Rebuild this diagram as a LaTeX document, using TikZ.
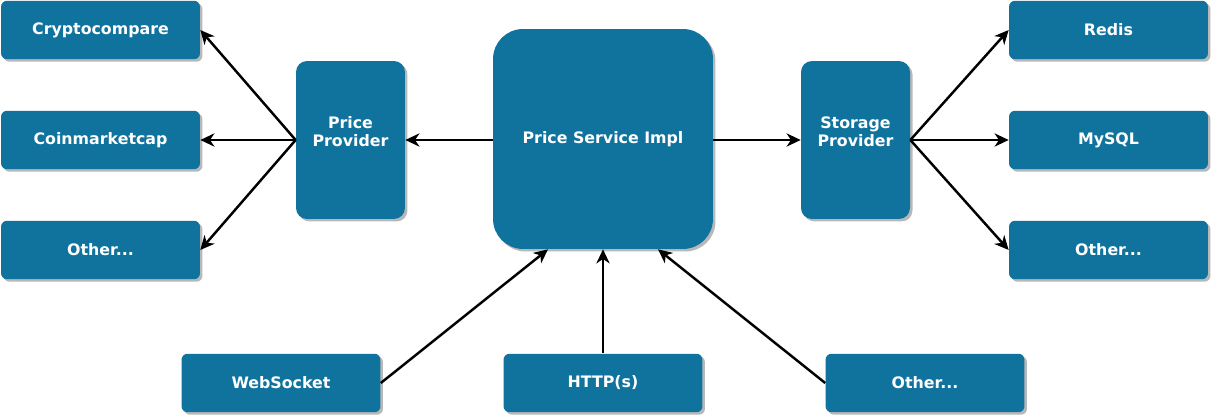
\documentclass[tikz,border=0pt]{standalone}
\usepackage{fontspec}
\setmainfont{DejaVu Sans}
\usetikzlibrary{arrows.meta,shadows}
\definecolor{boxblue}{HTML}{10739E}

\begin{document}
\begin{tikzpicture}[x=0.02cm, y=-0.02cm,
    box/.style={fill=boxblue, text=white, font=\bfseries\fontsize{9}{10.2}\selectfont,
        align=center, inner sep=0pt, rounded corners=0.12cm,
        drop shadow={shadow xshift=0.05cm, shadow yshift=-0.05cm, fill=black!28, opacity=1}},
    smallbox/.style={box, minimum width=3.98cm, minimum height=1.17cm},
    provbox/.style={box, minimum width=2.18cm, minimum height=3.16cm, rounded corners=0.22cm},
    lbl/.style={text=white, font=\bfseries\fontsize{9}{10.2}\selectfont, align=center, yshift=0.17cm},
    arr/.style={-{Stealth[length=8pt, width=7.5pt, inset=2.5pt]}, line width=1.4pt}]
    \useasboundingbox (0,0) rectangle (1213,418);
    % left side
    \node[smallbox] (crypto) at (100.5,30) {Cryptocompare};
    \node[smallbox] (cmc) at (100.5,140) {Coinmarketcap};
    \node[smallbox] (otherleft) at (100.5,250) {Other...};
    \node[provbox, label={[lbl]center:Price\\Provider}] (priceprov) at (350.5,140) {};
    % center
    \node[box, minimum width=4.4cm, minimum height=4.4cm, rounded corners=0.6cm] (service) at (603,139) {Price Service Impl};
    % right side
    \node[provbox, label={[lbl]center:Storage\\Provider}] (storeprov) at (855.5,140) {};
    \node[smallbox] (redis) at (1108.5,30) {Redis};
    \node[smallbox] (mysql) at (1108.5,140) {MySQL};
    \node[smallbox] (otherright) at (1108.5,250) {Other...};
    % bottom
    \node[smallbox] (websocket) at (281,383) {WebSocket};
    \node[smallbox] (http) at (603,383) {HTTP(s)};
    \node[smallbox] (otherbottom) at (925,383) {Other...};
    % arrows
    \draw[arr] (priceprov.west) -- (crypto.east);
    \draw[arr] (priceprov.west) -- (cmc.east);
    \draw[arr] (priceprov.west) -- (otherleft.east);
    \draw[arr] (service.west |- priceprov.east) -- (priceprov.east);
    \draw[arr] (service.east |- storeprov.west) -- (storeprov.west);
    \draw[arr] (storeprov.east) -- (redis.west);
    \draw[arr] (storeprov.east) -- (mysql.west);
    \draw[arr] (storeprov.east) -- (otherright.west);
    \draw[arr] (websocket.east) -- ([xshift=-1.1cm]service.south);
    \draw[arr] (http.north) -- (service.south);
    \draw[arr] (otherbottom.west) -- ([xshift=1.1cm]service.south);
\end{tikzpicture}
\end{document}
